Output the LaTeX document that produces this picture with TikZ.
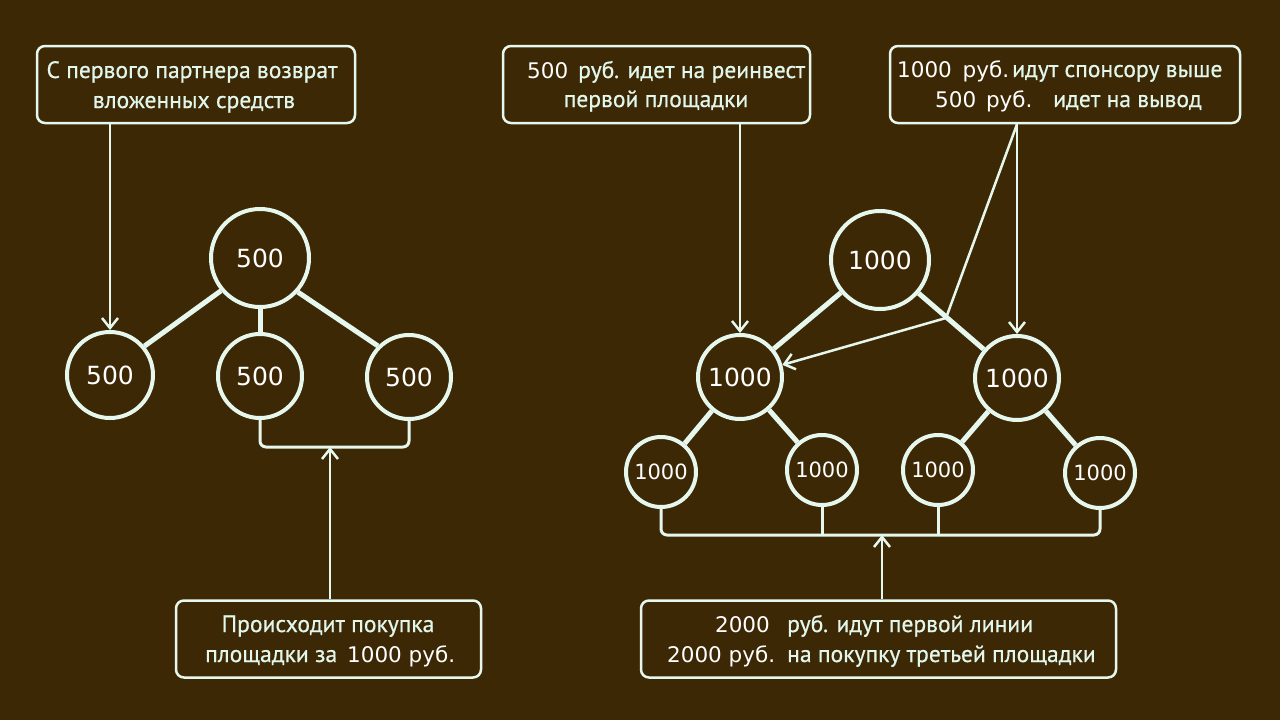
\documentclass[tikz,border=0pt]{standalone}
\usepackage{fontspec}
\setmainfont[FakeBold=0.6]{PT Sans}
\newfontfamily\numfont{DejaVu Sans}
\usetikzlibrary{arrows.meta}
\definecolor{bg}{HTML}{3D2805}
\definecolor{mint}{HTML}{E2F7EC}
\definecolor{ln}{HTML}{E6F8EE}
\begin{document}
\begin{tikzpicture}[x=1pt,y=-1pt,
 box/.style={draw=ln,line width=2.5pt,rounded corners=8pt,minimum height=77pt,inner sep=0pt},
 circ/.style={circle,draw=ln,line width=4pt,inner sep=0pt,minimum size=#1,text=white},
 big/.style={font=\numfont\fontsize{25}{25}\selectfont},
 small/.style={font=\numfont\fontsize{21}{21}\selectfont},
 treeedge/.style={draw=ln,line width=5pt},
 bracket/.style={draw=ln,line width=3pt,rounded corners=6pt},
 arr/.style={draw=ln,line width=2.5pt,-{Straight Barb[length=10pt,width=16pt,line width=2.5pt]}},
 txt/.style={text=mint,font=\fontsize{23.6}{28}\selectfont,inner sep=0pt,anchor=base},
 num/.style={text=white,font=\numfont\fontsize{21.5}{24}\selectfont,inner sep=0pt,anchor=base}
]
\fill[bg] (0,0) rectangle (1280,720);
\useasboundingbox (0,0) rectangle (1280,720);

% boxes
\node[box,minimum width=318pt] (b1) at (196,84.5) {};
\node[box,minimum width=307pt] (b2) at (656.5,84.5) {};
\node[box,minimum width=350pt] (b3) at (1065,84.5) {};
\node[box,minimum width=305pt] (b4) at (328.5,639) {};
\node[box,minimum width=475pt] (b5) at (878.5,639) {};

% box texts
\node[txt] (t1a) at (192,78) {С первого партнера возврат};
\node[txt] (t1b) at (194,108) {вложенных средств};
\node[num,anchor=base west] (t2n) at (527,78) {500};
\node[txt,anchor=base west] (t2a) at (578,78) {руб. идет на реинвест};
\node[txt] (t2b) at (656,107) {первой площадки};
\node[num,anchor=base west] (t3n) at (897,77) {1000\hspace{4pt} руб.};
\node[txt,anchor=base west] (t3a) at (1012,77) {идут спонсору выше};
\node[num,anchor=base west] (t3m) at (935,107) {500\hspace{3pt} руб.};
\node[txt,anchor=base west] (t3b) at (1053,107) {идет на вывод};
\node[txt] (t4a) at (328,632) {Происходит покупка};
\node[txt,anchor=base west] (t4b) at (205,662) {площадки за};
\node[num,anchor=base west] (t4n) at (347,662) {1000 руб.};
\node[num,anchor=base east] (t5n) at (770,632) {2000};
\node[txt,anchor=base west] (t5a) at (787,632) {руб. идут первой линии};
\node[num,anchor=base west] (t5m) at (667,662) {2000 руб.};
\node[txt,anchor=base west] (t5b) at (787,662) {на покупку третьей площадки};

% left tree
\node[circ=98pt,big] (t0) at (260,258) {500};
\node[circ=86pt,big] (l1) at (110,375) {500};
\node[circ=84pt,big] (l2) at (260,376) {500};
\node[circ=84pt,big] (l3) at (409,377) {500};
\draw[treeedge] (t0.220) -- (l1.40);
\draw[treeedge] (t0) -- (l2);
\draw[treeedge] (t0.318) -- (l3.135);
\coordinate (m1) at (330,447);
\draw[bracket] (l2.south) |- (m1) -| (l3.south);
\draw[arr] (b4.north -| m1) -- (m1);
\draw[arr] (b1.south -| l1.north) -- (l1.north);

% right tree
\node[circ=98pt,big] (r0) at (880,260) {1000};
\node[circ=84pt,big] (r1) at (740,377) {1000};
\node[circ=84pt,big] (r2) at (1017,378) {1000};
\node[circ=70pt,small] (s1) at (661,472) {1000};
\node[circ=70pt,small] (s2) at (822,470) {1000};
\node[circ=70pt,small] (s3) at (938,470) {1000};
\node[circ=70pt,small] (s4) at (1100,473) {1000};
\draw[treeedge] (r0) -- (r1);
\draw[treeedge] (r0) -- (r2);
\draw[treeedge] (r1) -- (s1);
\draw[treeedge] (r1) -- (s2);
\draw[treeedge] (r2) -- (s3);
\draw[treeedge] (r2) -- (s4);
\coordinate (m2) at (882,535);
\draw[bracket] (s1.south) |- (m2) -| (s4.south);
\draw[bracket] (s2.south) -- (s2.south |- m2);
\draw[bracket] (s3.south) -- (s3.south |- m2);
\draw[arr] (b5.north -| m2) -- (m2);
\draw[arr] (b2.south -| r1.north) -- (r1.north);
\draw[arr] (b3.south -| r2.north) -- (r2.north);
\coordinate (k) at (946,318);
\draw[arr] (b3.south -| r2.north) -- (k) -- (r1);
\end{tikzpicture}
\end{document}
